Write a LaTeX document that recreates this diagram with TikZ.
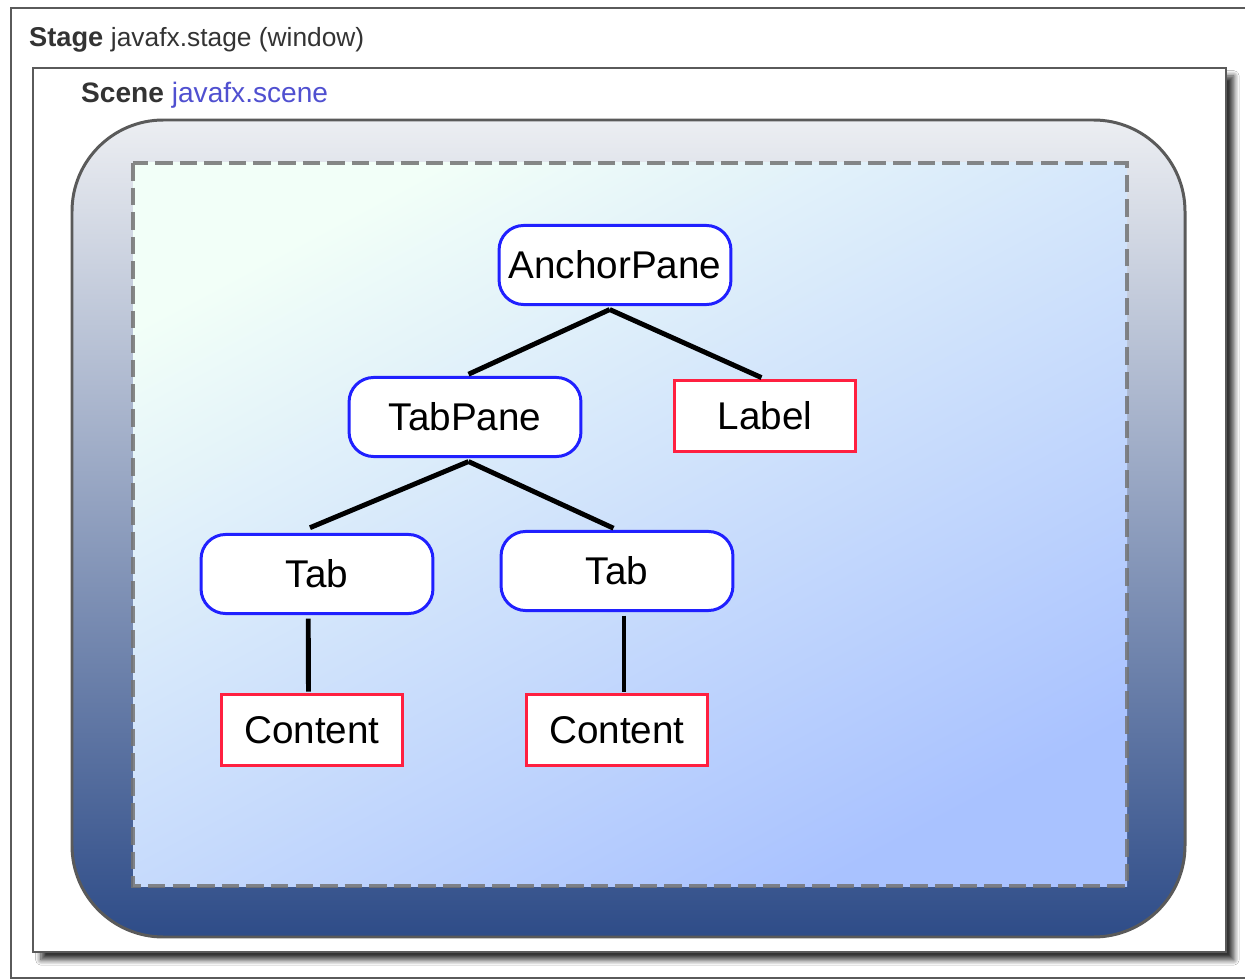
\documentclass[tikz,border=0pt]{standalone}
\usepackage{fontspec}
\setmainfont{Liberation Sans}
\usepackage{xcolor}
\usetikzlibrary{shadows.blur}

\definecolor{framegray}{HTML}{5A5A5A}
\definecolor{scenetop}{HTML}{ECEEF2}
\definecolor{scenemid}{HTML}{8A98B8}
\definecolor{scenebot}{HTML}{2E4C88}
\definecolor{rootmint}{HTML}{F2FFF8}
\definecolor{rootmid}{HTML}{D6E6FA}
\definecolor{rootblue}{HTML}{A9C2FF}
\definecolor{pkgblue}{HTML}{5050D0}
\definecolor{parentblue}{HTML}{2020FF}
\definecolor{leafred}{HTML}{FF2040}

\begin{document}
\begin{tikzpicture}[x=0.02cm, y=-0.02cm,
	parent/.style={draw=parentblue, line width=1.7pt, fill=white, rounded corners=14pt,
		minimum width=132pt, minimum height=45pt, font=\fontsize{22}{25}\selectfont},
	leaf/.style={draw=leafred, line width=1.7pt, fill=white,
		minimum width=103pt, minimum height=40pt, font=\fontsize{22}{25}\selectfont},
	link/.style={line width=2.8pt, black}]
	\useasboundingbox (0,0) rectangle (1245,980);

	% stage and scene frames
	\draw[framegray, line width=1.1pt, fill=white] (11,8) rectangle (1260,978);
	\node[anchor=west, text=black!80, font=\fontsize{15.5}{18}\selectfont] (stage) at (23,40)
		{\textbf{Stage} {\fontsize{15}{18}\selectfont javafx.stage (window)}};
	\draw[framegray, line width=1.1pt, fill=white,
		blur shadow={shadow xshift=4.5pt, shadow yshift=-4.5pt, shadow blur steps=8,
			shadow blur radius=3pt, shadow opacity=80}]
		(33,68) rectangle (1226,952);
	\node[anchor=west, text=black!80, font=\fontsize{16}{19}\selectfont] (scene) at (75,95)
		{\textbf{Scene} \textcolor{pkgblue}{javafx.scene}};

	% scene graph background
	\shade[draw=framegray, line width=1.7pt, rounded corners=52pt,
		top color=scenetop, middle color=scenemid, bottom color=scenebot]
		(72,120) rectangle (1185,937);
	\shade[top color=rootmint, middle color=rootmid, bottom color=rootblue, shading angle=28]
		(133,163) rectangle (1127,886);
	\draw[black!55, opacity=0.85, line width=2.2pt, dash pattern=on 10pt off 4pt]
		(133,163) rectangle (1127,886);

	% nodes
	\node[parent] (anchor) at (615,265) {AnchorPane};
	\node[parent] (tabpane) at (465,417) {TabPane};
	\node[leaf] (label) at (765,416) {Label};
	\node[parent] (tabA) at (317,574) {Tab};
	\node[parent] (tabB) at (617,571) {Tab};
	\node[leaf] (contentA) at (312,730) {Content};
	\node[leaf] (contentB) at (617,730) {Content};

	% links
	\begin{scope}[link]
		\draw ([xshift=-3pt, yshift=-2pt]anchor.south) -- ([xshift=2pt, yshift=1pt]tabpane.north);
		\draw ([xshift=-3pt, yshift=-2pt]anchor.south) -- ([xshift=-2pt, yshift=1pt]label.north);
		\draw ([xshift=2pt, yshift=-2pt]tabpane.south) -- ([xshift=-4pt, yshift=3pt]tabA.north);
		\draw ([xshift=2pt, yshift=-2pt]tabpane.south) -- ([xshift=-2pt, yshift=1pt]tabB.north);
		\draw ([xshift=-5pt, yshift=-2pt]tabA.south) -- ([xshift=-2pt, yshift=1pt]contentA.north);
		\draw ([xshift=4pt, yshift=-2pt]tabB.south) -- ([xshift=4pt, yshift=1pt]contentB.north);
	\end{scope}
\end{tikzpicture}
\end{document}
